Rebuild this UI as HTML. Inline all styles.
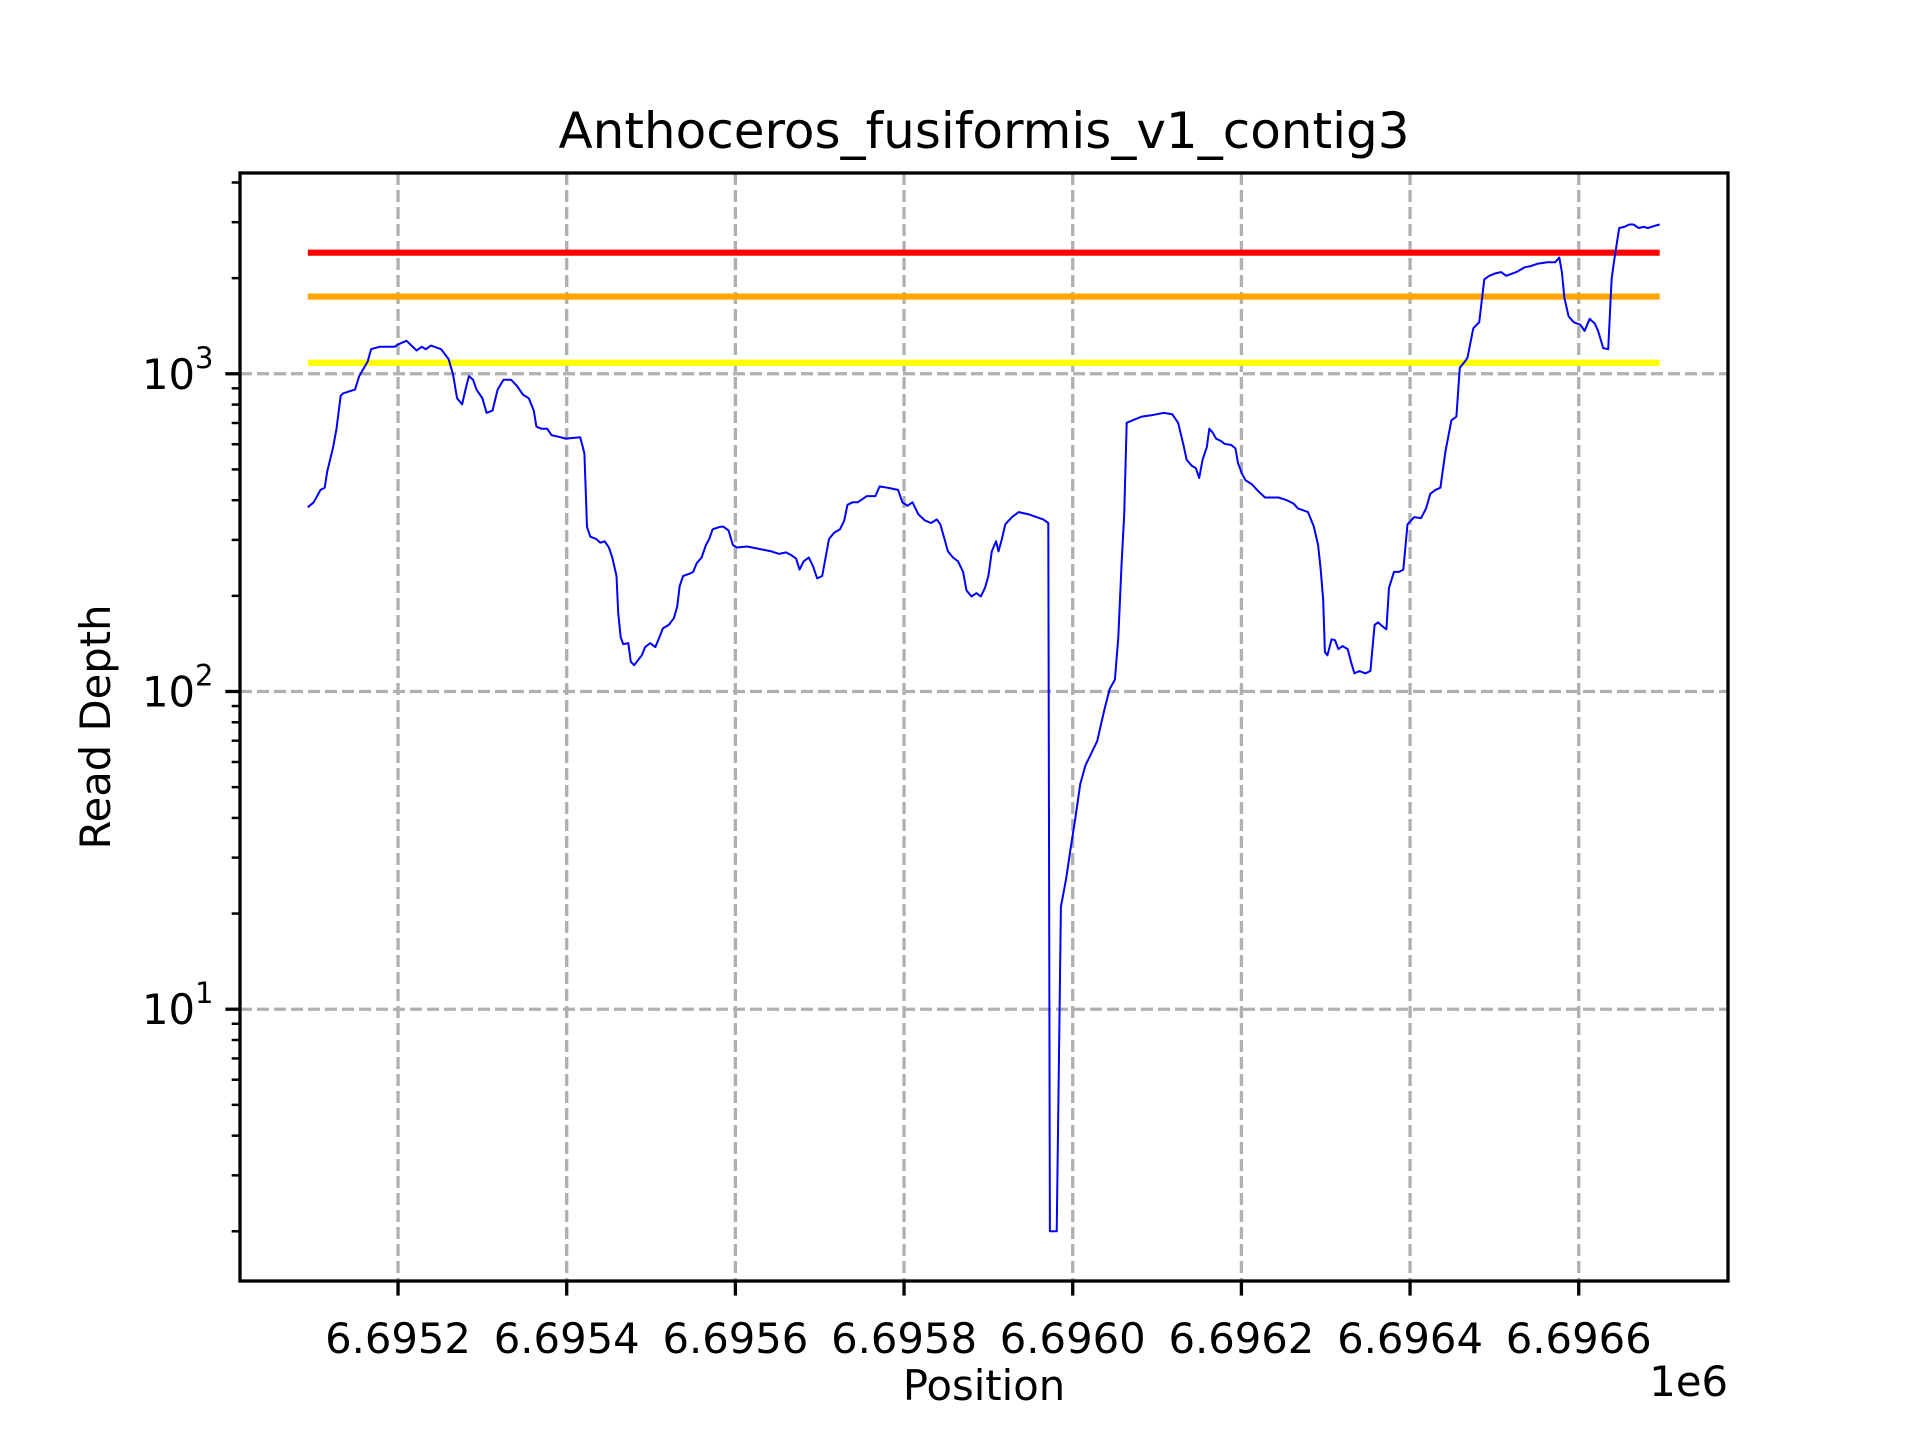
<!DOCTYPE html>
<html><head><meta charset="utf-8"><style>
html,body{margin:0;padding:0;background:#fff;}
svg{display:block;font-family:"DejaVu Sans","Liberation Sans",sans-serif;}
</style></head><body>
<svg id="chart" width="1920" height="1440" viewBox="0 0 1920 1440" xmlns="http://www.w3.org/2000/svg">
<rect x="0" y="0" width="1920" height="1440" fill="#fff"/>
<g id="grid"></g>
<g id="refs"></g>
<g id="series"></g>
<rect x="240" y="173" width="1488" height="1108" fill="none" stroke="#000" stroke-width="3.3"/>
<g id="xaxis"></g>
<g id="yaxis"></g>
<text x="984" y="148" font-size="50" text-anchor="middle">Anthoceros_fusiformis_v1_contig3</text>
<text x="984" y="1400" font-size="41.7" text-anchor="middle">Position</text>
<text x="1728" y="1396" font-size="41.7" text-anchor="end">1e6</text>
<text transform="translate(110,727) rotate(-90)" font-size="41.7" text-anchor="middle">Read Depth</text>
</svg>
<script>
const positions=[6695093,6695100,6695108,6695113,6695116,6695123,6695127,6695132,6695135,6695149,6695154,6695164,6695168,6695178,6695196,6695200,6695210,6695216,6695222,6695228,6695233,6695239,6695251,6695260,6695265,6695270,6695276,6695280,6695284,6695289,6695293,6695300,6695305,6695312,6695318,6695325,6695334,6695341,6695348,6695355,6695361,6695364,6695370,6695377,6695382,6695393,6695399,6695416,6695421,6695424,6695428,6695435,6695440,6695445,6695450,6695454,6695459,6695461,6695464,6695467,6695473,6695476,6695480,6695489,6695493,6695499,6695505,6695509,6695514,6695521,6695527,6695531,6695534,6695538,6695546,6695550,6695554,6695560,6695565,6695569,6695573,6695582,6695586,6695592,6695597,6695602,6695614,6695628,6695643,6695652,6695660,6695666,6695672,6695676,6695681,6695687,6695692,6695697,6695703,6695707,6695711,6695717,6695724,6695729,6695733,6695739,6695745,6695756,6695766,6695771,6695780,6695793,6695798,6695804,6695810,6695817,6695825,6695832,6695839,6695843,6695848,6695852,6695858,6695864,6695870,6695874,6695880,6695886,6695891,6695896,6695900,6695904,6695909,6695912,6695916,6695920,6695928,6695936,6695948,6695957,6695965,6695971,6695973,6695981,6695983,6695986,6695992,6695997,6696003,6696009,6696015,6696022,6696029,6696034,6696038,6696044,6696050,6696054,6696058,6696061,6696064,6696071,6696082,6696093,6696108,6696118,6696125,6696131,6696135,6696141,6696146,6696150,6696154,6696159,6696162,6696166,6696170,6696176,6696180,6696188,6696193,6696196,6696201,6696205,6696212,6696220,6696228,6696244,6696253,6696262,6696267,6696279,6696286,6696291,6696294,6696297,6696299,6696302,6696307,6696311,6696315,6696320,6696326,6696330,6696334,6696340,6696347,6696353,6696358,6696362,6696369,6696372,6696375,6696381,6696387,6696392,6696397,6696405,6696413,6696419,6696424,6696430,6696436,6696442,6696449,6696455,6696459,6696465,6696468,6696475,6696482,6696488,6696494,6696501,6696508,6696514,6696526,6696536,6696543,6696552,6696563,6696572,6696577,6696580,6696583,6696588,6696594,6696602,6696607,6696613,6696619,6696623,6696629,6696635,6696639,6696642,6696648,6696654,6696660,6696665,6696671,6696677,6696682,6696691,6696696];
const depths=[380,394,431,438,492,587,671,853,868,892,983,1093,1195,1216,1216,1237,1270,1227,1184,1216,1195,1227,1195,1112,1000,837,801,892,983,957,892,837,753,766,892,957,957,915,860,837,766,682,671,671,641,631,625,631,562,330,307,302,294,297,284,264,231,177,148,141,142,124,121,130,138,142,138,146,158,162,170,185,215,231,235,238,253,264,289,302,324,330,330,321,289,284,286,281,276,271,274,269,262,242,257,264,248,227,231,264,302,316,324,345,387,394,394,412,412,442,438,431,394,384,394,361,345,339,348,336,302,276,264,257,238,208,199,204,199,212,231,276,297,276,302,336,354,367,361,354,348,339,2.0,2.0,5.1,21,25.6,31.4,39.9,51.2,58.5,63.9,69.8,79.8,88.7,102,109,148,253,361,701,714,733,740,753,746,701,602,537,514,505,470,537,587,671,653,625,614,602,597,582,523,483,462,450,427,408,408,401,390,377,367,330,289,242,194,133,130,146,145,136,139,136,124,114,116,114,116,162,165,159,157,212,238,238,242,336,354,351,377,419,431,438,571,714,733,1045,1093,1122,1390,1453,1983,2034,2070,2089,2034,2089,2163,2183,2223,2244,2244,2323,2089,1734,1517,1453,1426,1364,1490,1439,1364,1205,1195,1983,2265,2877,2899,2951,2951,2877,2899,2877,2926,2951];
const thresholdValues=[2405,1750,1083];
const thresholdColors=["#ff0000","#ffa500","#ffff00"];
const xTicks=[6695200,6695400,6695600,6695800,6696000,6696200,6696400,6696600];
const xTickLabels=["6.6952","6.6954","6.6956","6.6958","6.6960","6.6962","6.6964","6.6966"];
const yTicks=[10,100,1000];
const yTickExps=["1","2","3"];

const NS="http://www.w3.org/2000/svg";
const L=240,R=1728,T=173,B=1281;
const XMIN=6695012.6,XMAX=6696777,YMINL=Math.log10(1.395),YMAXL=Math.log10(4285);
function sx(v){return L+(v-XMIN)/(XMAX-XMIN)*(R-L);}
function sy(v){return B-(Math.log10(v)-YMINL)/(YMAXL-YMINL)*(B-T);}
function mk(tag,attrs,parent){const e=document.createElementNS(NS,tag);for(const k in attrs)e.setAttribute(k,attrs[k]);parent.appendChild(e);return e;}
const grid=document.getElementById('grid'),refs=document.getElementById('refs'),series=document.getElementById('series'),xa=document.getElementById('xaxis'),ya=document.getElementById('yaxis');

xTicks.forEach((t,i)=>{
  const x=sx(t);
  const g=mk('line',{x1:x,x2:x,y1:T,y2:B,stroke:'#b0b0b0','stroke-width':3.3,'stroke-dasharray':'12,5'},grid);
  
  
  const tk=mk('line',{x1:x,x2:x,y1:B,y2:B+14.6,stroke:'#000','stroke-width':3.3},xa);
  
  
  const lb=mk('text',{x:x,y:1353,'font-size':41.7,'text-anchor':'middle'},xa);
  lb.textContent=xTickLabels[i];
  
  
});
yTicks.forEach((t,i)=>{
  const y=sy(t);
  const g=mk('line',{x1:L,x2:R,y1:y,y2:y,stroke:'#b0b0b0','stroke-width':3.3,'stroke-dasharray':'12,5'},grid);
  
  
  const tk=mk('line',{x1:L-14.6,x2:L,y1:y,y2:y,stroke:'#000','stroke-width':3.3},ya);
  
  
  const lb=mk('text',{x:L-45,y:y+15,'font-size':41.7,'text-anchor':'end'},ya);
  lb.textContent='10';
  
  
  const sp=mk('text',{x:L-45,y:y-6,'font-size':29,'text-anchor':'start'},ya);
  sp.textContent=yTickExps[i];
  
  
});
for(let d=1;d<=1000;d*=10){for(let m=2;m<=9;m++){const v=d*m;const y=sy(v);if(y<T||y>B)continue;
  const tk=mk('line',{x1:L-8.3,x2:L,y1:y,y2:y,stroke:'#000','stroke-width':2.5},ya);
  
  }}

const x0=sx(positions[0]),x1=sx(positions[positions.length-1]);
thresholdValues.forEach((v,i)=>{
  const y=sy(v);
  const ln=mk('line',{x1:x0,x2:x1,y1:y,y2:y,stroke:thresholdColors[i],'stroke-width':6.2},refs);
  
  
});
const pts=positions.map((p,i)=>sx(p).toFixed(1)+','+sy(depths[i]).toFixed(1)).join(' ');
const pl=mk('polyline',{points:pts,fill:'none',stroke:'#0000ff','stroke-width':2,'stroke-linejoin':'round'},series);


</script>
</body></html>
